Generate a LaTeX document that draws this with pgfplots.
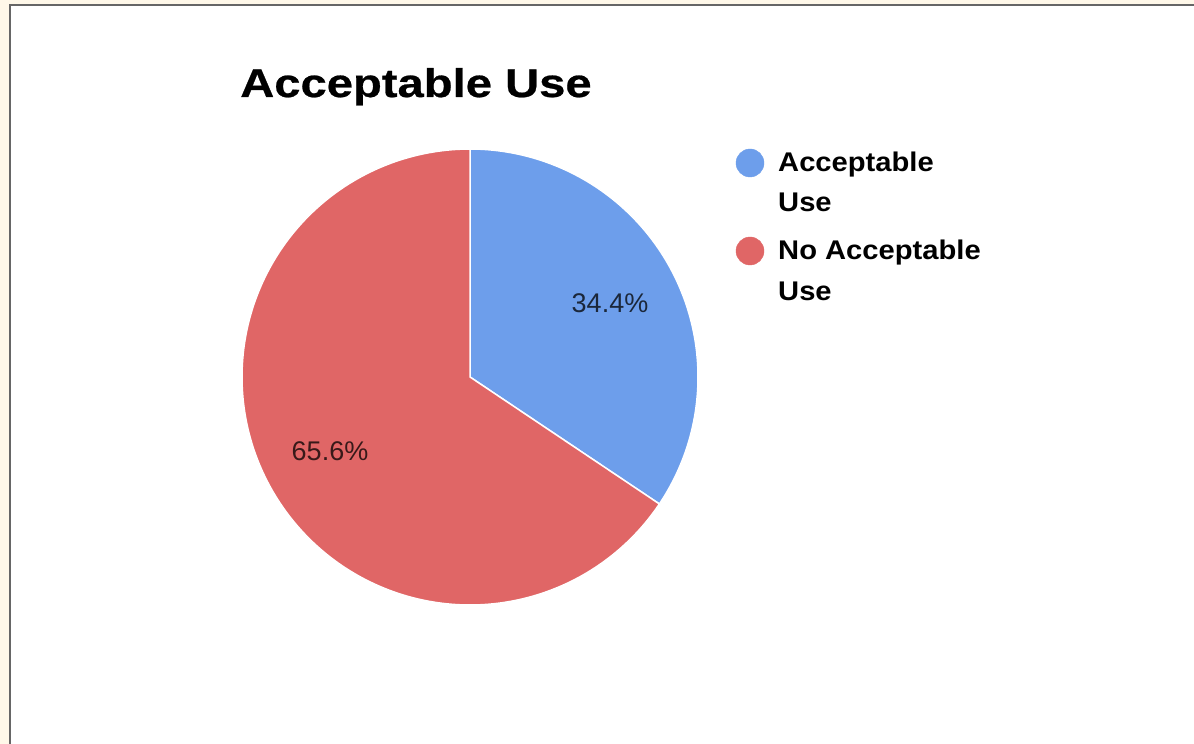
\documentclass[border=0pt]{standalone}
\usepackage{pgfplots}
\pgfplotsset{compat=1.18}
\usepackage{pgfplotstable}
\usepackage{fontspec}
\setmainfont{Liberation Sans}
\newfontfamily\titlefont[FakeStretch=1.18, FakeBold=0.6]{Liberation Sans}
\newfontfamily\legfont[FakeStretch=1.08]{Liberation Sans}
\definecolor{pieblue}{HTML}{6D9EEB}
\definecolor{piered}{HTML}{E06666}
\definecolor{cream}{HTML}{FFF8E9}
\definecolor{framegray}{HTML}{666666}

\pgfplotstableread{
label value
Acceptable 34.4
NoAcceptable 65.6
}\piedata
\pgfplotstablegetelem{0}{value}\of\piedata \let\pA\pgfplotsretval
\pgfplotstablegetelem{1}{value}\of\piedata \let\pB\pgfplotsretval

\begin{document}
\begin{tikzpicture}
\useasboundingbox (0,0) rectangle (1194bp,744bp);
\fill[cream] (0,0) rectangle (1194bp,744bp);
\fill[white] (10bp,0) rectangle (1194bp,739bp);
\draw[framegray, line width=2.5bp] (10bp,0) -- (10bp,739bp) -- (1194bp,739bp);
\begin{axis}[
  at={(0,0)}, anchor=south west,
  scale only axis, width=1194bp, height=744bp,
  xmin=0, xmax=1194, ymin=0, ymax=744, y dir=reverse,
  hide axis, clip=false,
]
% blue slice: from 12 o'clock clockwise
\addplot[fill=pieblue, draw=white, line width=1.5bp, domain=0:\pA*3.6, samples=120, variable=\t]
  ({470+228*sin(\t)},{377-228*cos(\t)}) -- (axis cs:470,377) -- cycle;
% red slice
\addplot[fill=piered, draw=white, line width=1.5bp, domain=\pA*3.6:360, samples=200, variable=\t]
  ({470+228*sin(\t)},{377-228*cos(\t)}) -- (axis cs:470,377) -- cycle;
% legend markers
\addplot[only marks, mark=*, mark size=14bp, draw=pieblue, fill=pieblue] coordinates {(750,163)};
\addplot[only marks, mark=*, mark size=14bp, draw=piered, fill=piered] coordinates {(750,251)};
% slice labels
\node[text=black, text opacity=0.75, font=\fontsize{27bp}{32bp}\selectfont] at (axis cs:610,303) {34.4\%};
\node[text=black, text opacity=0.75, font=\fontsize{27bp}{32bp}\selectfont] at (axis cs:330,451) {65.6\%};
% title
\node[anchor=base west, inner sep=0, font=\titlefont\bfseries\fontsize{40bp}{44bp}\selectfont] at (axis cs:240,97) {Acceptable Use};
% legend text
\node[anchor=base west, inner sep=0, font=\legfont\bfseries\fontsize{27bp}{32bp}\selectfont] at (axis cs:778,172) {Acceptable};
\node[anchor=base west, inner sep=0, font=\legfont\bfseries\fontsize{27bp}{32bp}\selectfont] at (axis cs:778,212) {Use};
\node[anchor=base west, inner sep=0, font=\legfont\bfseries\fontsize{27bp}{32bp}\selectfont] at (axis cs:778,260) {No Acceptable};
\node[anchor=base west, inner sep=0, font=\legfont\bfseries\fontsize{27bp}{32bp}\selectfont] at (axis cs:778,300) {Use};
\end{axis}
\end{tikzpicture}
\end{document}
